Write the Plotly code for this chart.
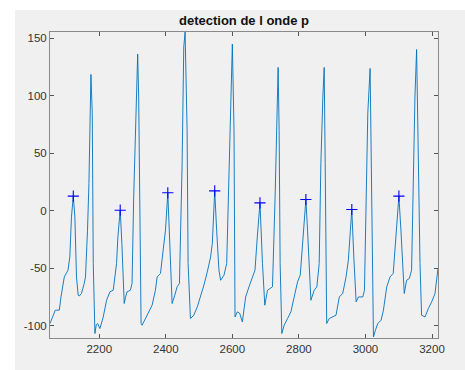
import plotly.graph_objects as go

# ECG signal samples
sig_x = [2052, 2062, 2068, 2080, 2085, 2095, 2106, 2111.6, 2116.5, 2122, 2126.7, 2131.6, 2136.7, 2140,
         2146.6, 2154.8, 2158.7, 2164.7, 2169, 2175, 2179, 2182, 2187, 2191, 2195, 2202, 2212, 2222,
         2232, 2242, 2252, 2256, 2263, 2268, 2275, 2279, 2283.5, 2293.5, 2298.6, 2303.5, 2310.6,
         2315.5, 2318.5, 2321.5, 2325.7, 2328.7, 2338.7, 2348.6, 2358.9, 2368.8, 2374, 2384, 2389,
         2399, 2406, 2411, 2419, 2427, 2434, 2441, 2449, 2454, 2458, 2464, 2467, 2474, 2484, 2494.6,
         2504.5, 2514.5, 2524.7, 2534.7, 2539.8, 2547, 2552.8, 2559.7, 2564.8, 2574.8, 2583, 2590,
         2595, 2600, 2605, 2608, 2615, 2622, 2630, 2640, 2650, 2660.6, 2668, 2675, 2683, 2690.5,
         2697.5, 2705.6, 2712.5, 2720.6, 2728.5, 2732.7, 2737.6, 2740.6, 2743.6, 2748.7, 2755.7,
         2765.9, 2776, 2785.8, 2796, 2804, 2811, 2821, 2826, 2831, 2836, 2846, 2854, 2861, 2866,
         2872, 2876, 2879, 2883.5, 2891, 2901.5, 2911.5, 2921.5, 2931.7, 2941.7, 2948.6, 2954.7,
         2959, 2965, 2972, 2979, 2992, 2997, 3002, 3007, 3014, 3017, 3020, 3024, 3030, 3037, 3047,
         3054, 3064, 3074, 3083.4, 3090.5, 3100.5, 3106.6, 3111.5, 3116.6, 3123.6, 3131.8, 3138.6,
         3143.7, 3148.7, 3153.7, 3158.8, 3163.9, 3168.7, 3179, 3189, 3199, 3209, 3218]
sig_y = [-97.9, -90.7, -86.3, -86.3, -74.8, -57.4, -51.6, -40, -5.2, 12.8, -5.2, -57.4, -73.3, -74,
         -71.8, -63.1, -57.4, -16.8, 23.8, 118.6, 84.7, -45.7, -106.6, -99, -97.9, -102.3, -92.2, -77.7,
         -70.4, -69, -45.7, -22.6, 0.6, -28.3, -80.5, -75, -70.4, -69, -63, 12.2, 99,
         136.3, 99, -16.8, -97.9, -99.4, -93.6, -89.2, -82, -69, -57.4, -54.4, -42.9,
         -16.8, 15.7, -16.8, -80.5, -73.3, -66, -63, 41, 142.6, 155.5, 70, -45.7, -93.6, -90.7, -83.5,
         -74.8, -64.6, -53, -40, -28.3, 17.4, -16.8, -51.6, -60.3, -55.9, -45.7, 26.7,
         99, 145, 70, -92.2, -87.8, -89, -96.5, -74.8, -66, -57.4, -51.6, -22.6, 7.0, -45.7,
         -82, -69, -67.5, -66, 12.2, 70, 124.7, 70, -45.7, -106.6, -99.4,
         -93.6, -87.8, -74.8, -61.7, -55.9, -28.3, 9.9, -16.8, -54.4, -77.7, -69, -66, -45.7, 41,
         99, 124.7, 41, -97.9, -93.6, -92.2, -90.7, -74.8, -71.8, -57.4, -42.9, -16.8,
         1.2, -40, -79.1, -74.8, -74.8, -69, 12.2, 84.7, 123.8, 41, -45.7, -109.6, -103.7, -97.9, -95,
         -86.3, -66, -57.4, -54.4, -28.3, 12.8, -16.8, -45.7, -71.8, -60.3, -58.8, -51.6,
         26.7, 99, 140.3, 41, -45.7, -90.7, -92.2, -84.9, -79.1, -71.8, -50]

# detected P-wave peaks
p_x = [2122, 2263, 2406, 2547, 2683, 2821, 2959, 3100.5]
p_y = [12.8, 0.6, 15.7, 17.4, 7.0, 9.9, 1.2, 12.8]

x_ticks = [2200, 2400, 2600, 2800, 3000, 3200]
y_ticks = [-100, -50, 0, 50, 100, 150]
y_tick_text = ["-100", "-50", "0", "50", "100", "150"]

W, H = 465, 370
L, R, T, B = 50, 27, 32, 32

fig = go.Figure()
fig.add_trace(go.Scatter(x=sig_x, y=sig_y, mode="lines",
                         line=dict(color="#0072BD", width=0.9), hoverinfo="skip"))
fig.add_trace(go.Scatter(x=p_x, y=p_y, mode="markers",
                         marker=dict(symbol="cross-thin", size=8,
                                     line=dict(color="#0000FF", width=1.1), color="#0000FF")))

pw = W - L - R
ph = H - T - B
fig.add_shape(type="rect", xref="paper", yref="paper", layer="below",
              x0=(15 - L) / pw, x1=(W - L) / pw + 0.01,
              y0=-(H - T - ph) / ph - 0.01, y1=1 + (T - 10) / ph,
              fillcolor="#f0f0f0", line=dict(width=0))

axis_common = dict(showgrid=False, zeroline=False, showline=True, linecolor="#8a8a8a",
                   linewidth=1, mirror="ticks", ticks="inside", ticklen=4,
                   tickcolor="#555555", tickfont=dict(family="Liberation Sans, Arial", size=11.5,
                                                      color="#333333"))
fig.update_xaxes(range=[2052, 3218], tickvals=x_ticks, **axis_common)
fig.update_yaxes(range=[-110.5, 155.5], tickvals=y_ticks, ticktext=y_tick_text, **axis_common)

fig.update_layout(
    width=W, height=H, showlegend=False,
    margin=dict(l=L, r=R, t=T, b=B),
    paper_bgcolor="white", plot_bgcolor="white",
    title=dict(text="<b>detection de l onde p</b>", x=(L + pw / 2) / W, xanchor="center",
               y=1 - 20.5 / H, yanchor="middle",
               font=dict(family="Liberation Sans, Arial", size=13, color="#111111")),
)

fig.write_html("out.html")
